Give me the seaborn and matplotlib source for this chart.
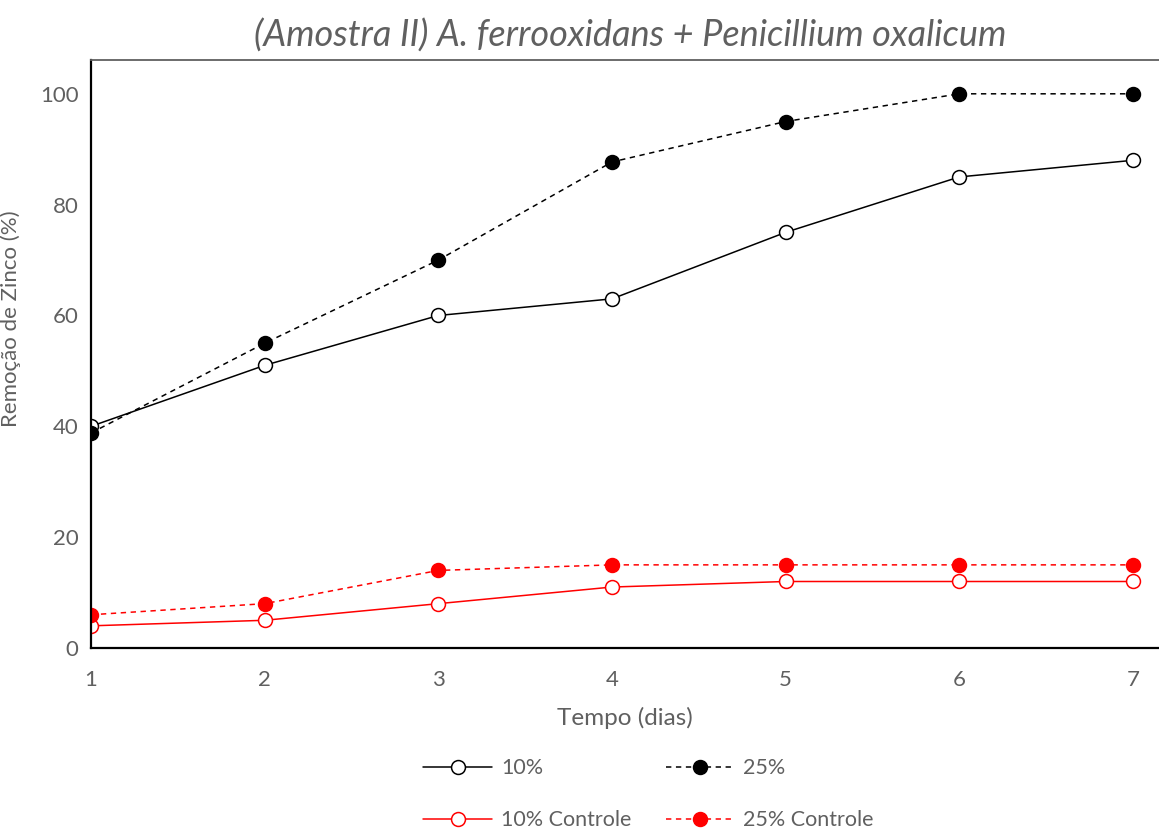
import matplotlib
matplotlib.use("Agg")
import matplotlib.pyplot as plt
import seaborn as sns
import pandas as pd

# Zinc removal over time for each leaching condition
dias = [1, 2, 3, 4, 5, 6, 7]
rem_10 = [40, 51, 60, 63, 75, 85, 88]
rem_25 = [38.8, 55, 70, 87.7, 95, 100, 100]
rem_10_controle = [4, 5, 8, 11, 12, 12, 12]
rem_25_controle = [6, 8, 14, 15, 15, 15, 15]

series_names = ["10%", "25%", "10% Controle", "25% Controle"]
series_values = [rem_10, rem_25, rem_10_controle, rem_25_controle]

sns.set_theme(style="white")
plt.rcParams["font.family"] = ["Lato", "DejaVu Sans"]

grey = "#606060"
dash = (0, (3.5, 3))
styles = {
    "10%": dict(color="black", ls="-", mfc="white"),
    "25%": dict(color="black", ls=dash, mfc="black"),
    "10% Controle": dict(color="#ff0000", ls="-", mfc="white"),
    "25% Controle": dict(color="#ff0000", ls=dash, mfc="#ff0000"),
}

fig = plt.figure(figsize=(11.59, 8.34), dpi=100)
ax = fig.add_axes([91 / 1159, 186 / 834, 1 - 91 / 1159, 588 / 834])

handles = {}
for name, vals in zip(series_names, series_values):
    st = styles[name]
    df = pd.DataFrame({"dia": dias, "remocao": vals})
    sns.lineplot(data=df, x="dia", y="remocao", ax=ax, color=st["color"],
                 linestyle=st["ls"], linewidth=1.1, marker="o", markersize=10,
                 markerfacecolor=st["mfc"], markeredgecolor=st["color"],
                 markeredgewidth=1.1, label=name)
    handles[name] = ax.get_lines()[-1]

if ax.get_legend():
    ax.get_legend().remove()

ax.set_xlim(1, 7.15)
ax.set_ylim(0, 106.1)
ax.set_xticks(dias)
ax.set_yticks([0, 20, 40, 60, 80, 100])

for side in ["left", "bottom"]:
    ax.spines[side].set_color("black")
    ax.spines[side].set_linewidth(1.6)
ax.spines["top"].set_color(grey)
ax.spines["top"].set_linewidth(1.3)
ax.spines["right"].set_visible(False)

ax.tick_params(axis="both", direction="in", length=7, width=1.3, color="black",
               labelsize=16, labelcolor=grey)
ax.tick_params(axis="y", pad=9)
ax.tick_params(axis="x", pad=16)

ax.set_xlabel("Tempo (dias)", fontsize=17.5, color=grey, labelpad=12)
ax.set_ylabel("Remoção de Zinco (%)", fontsize=16, color=grey)
ax.yaxis.set_label_coords(-0.066, 0.56)

ax.set_title("(Amostra II) A. ferrooxidans + Penicillium oxalicum",
             fontsize=26, color=grey, style="italic", pad=10, x=0.505)

order = ["10%", "10% Controle", "25%", "25% Controle"]
leg = fig.legend([handles[n] for n in order], order, loc="lower left",
                 bbox_to_anchor=(404 / 1159, -0.019), ncol=2, frameon=False,
                 fontsize=15.5, handlelength=3.2, handletextpad=0.4,
                 columnspacing=1.6, labelspacing=1.5)
for t in leg.get_texts():
    t.set_color(grey)

fig.savefig("out.png", dpi=100)
